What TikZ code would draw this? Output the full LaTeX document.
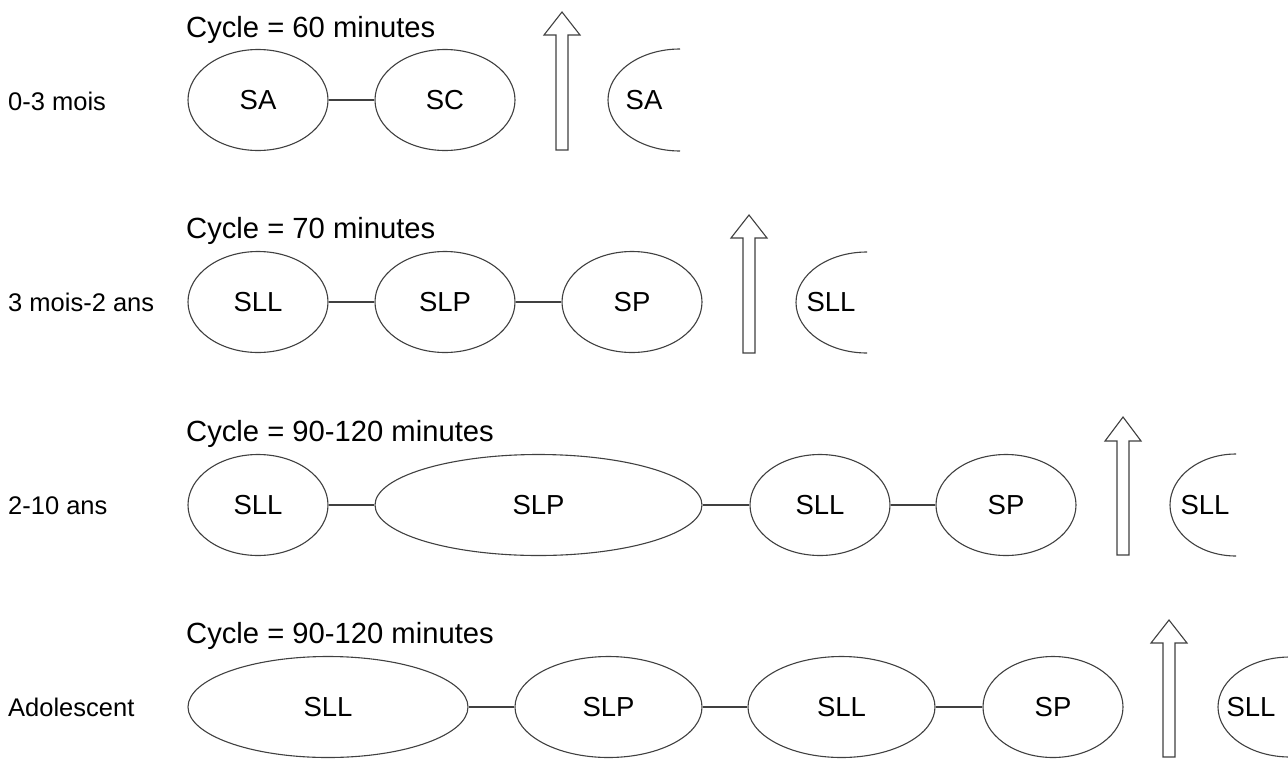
\documentclass[tikz,border=0pt]{standalone}
\usepackage{fontspec}
\setmainfont{Liberation Sans}
\usetikzlibrary{shapes.geometric}
\definecolor{linec}{gray}{0.25}
\begin{document}
\begin{tikzpicture}[x=1pt,y=-1pt,
  st/.style={draw=linec, line width=1.1pt, ellipse, inner sep=0pt, minimum height=101pt, font=\fontsize{27.5}{30}\selectfont},
  link/.style={draw=linec, line width=1.1pt},
  cyc/.style={anchor=base west, inner sep=0pt, font=\fontsize{29.2}{31}\selectfont},
  age/.style={anchor=base west, inner sep=0pt, font=\fontsize{25.5}{28}\selectfont},
  blockarrow/.style={draw=linec, line width=1.1pt, fill=white, line join=miter},
  txt/.style={inner sep=0pt, font=\fontsize{27.5}{30}\selectfont}]
\useasboundingbox (0,0) rectangle (1288,758);

% Row 1
\node[age] (l1) at (8,110) {0-3 mois};
\node[cyc] (c1) at (186,37) {Cycle = 60 minutes};
\node[st, minimum width=140pt] (r1a) at (258,100) {SA};
\node[st, minimum width=140pt] (r1b) at (445,100) {SC};
\draw[link] (r1a) -- (r1b);
\draw[blockarrow] (556,150) -- (556,35) -- (544,35) -- (562,12) -- (580,35) -- (568,35) -- (568,150) -- cycle;
\coordinate (h1t) at (680,49);
\draw[link] (h1t) arc[start angle=90, end angle=270, x radius=72pt, y radius=51pt];
\node[txt] (h1) at (644,100) {SA};

% Row 2
\node[age] (l2) at (8,311) {3 mois-2 ans};
\node[cyc] (c2) at (186,238) {Cycle = 70 minutes};
\node[st, minimum width=140pt] (r2a) at (258,302) {SLL};
\node[st, minimum width=140pt] (r2b) at (445,302) {SLP};
\node[st, minimum width=140pt] (r2c) at (632,302) {SP};
\draw[link] (r2a) -- (r2b);
\draw[link] (r2b) -- (r2c);
\draw[blockarrow] (743,353) -- (743,238) -- (731,238) -- (749,215) -- (767,238) -- (755,238) -- (755,353) -- cycle;
\coordinate (h2t) at (867,252);
\draw[link] (h2t) arc[start angle=90, end angle=270, x radius=71pt, y radius=50.5pt];
\node[txt] (h2) at (831,302) {SLL};

% Row 3
\node[age] (l3) at (8,514) {2-10 ans};
\node[cyc] (c3) at (186,441) {Cycle = 90-120 minutes};
\node[st, minimum width=140pt] (r3a) at (258,505) {SLL};
\node[st, minimum width=327pt] (r3b) at (538.5,505) {SLP};
\node[st, minimum width=140pt] (r3c) at (820,505) {SLL};
\node[st, minimum width=140pt] (r3d) at (1006,505) {SP};
\draw[link] (r3a) -- (r3b);
\draw[link] (r3b) -- (r3c);
\draw[link] (r3c) -- (r3d);
\draw[blockarrow] (1117,555) -- (1117,441) -- (1105,441) -- (1123,417) -- (1141,441) -- (1129,441) -- (1129,555) -- cycle;
\coordinate (h3t) at (1236,454);
\draw[link] (h3t) arc[start angle=90, end angle=270, x radius=66pt, y radius=51pt];
\node[txt] (h3) at (1205,505) {SLL};

% Row 4
\node[age] (l4) at (8,716) {Adolescent};
\node[cyc] (c4) at (186,643) {Cycle = 90-120 minutes};
\node[st, minimum width=280pt] (r4a) at (328,707) {SLL};
\node[st, minimum width=187pt] (r4b) at (608.5,707) {SLP};
\node[st, minimum width=187pt] (r4c) at (841.5,707) {SLL};
\node[st, minimum width=140pt] (r4d) at (1053,707) {SP};
\draw[link] (r4a) -- (r4b);
\draw[link] (r4b) -- (r4c);
\draw[link] (r4c) -- (r4d);
\draw[blockarrow] (1163,757) -- (1163,643) -- (1151,643) -- (1169,620) -- (1187,643) -- (1175,643) -- (1175,757) -- cycle;
\coordinate (h4t) at (1290,657);
\draw[link] (h4t) arc[start angle=90, end angle=270, x radius=72pt, y radius=50pt];
\node[txt] (h4) at (1251,707) {SLL};
\end{tikzpicture}
\end{document}
